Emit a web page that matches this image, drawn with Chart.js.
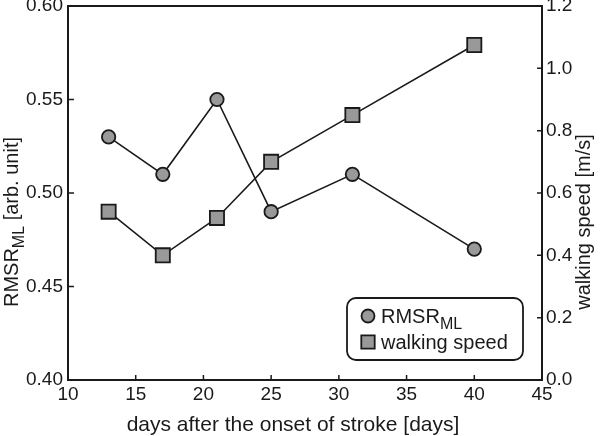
<!DOCTYPE html>
<html><head><meta charset="utf-8">
<script src="https://cdn.jsdelivr.net/npm/chart.js@4"></script>
<style>html,body{margin:0;padding:0;background:#fff}</style>
</head><body><canvas id="c" width="600" height="436"></canvas>
<script>
const days = [13, 17, 21, 25, 31, 40];
const rmsrML = [0.53, 0.51, 0.55, 0.49, 0.51, 0.47];
const walkingSpeed = [0.54, 0.40, 0.52, 0.70, 0.85, 1.075];
const xTicks = [10, 15, 20, 25, 30, 35, 40, 45];
const yLeftTicks = [0.40, 0.45, 0.50, 0.55, 0.60];
const yRightTicks = [0.0, 0.2, 0.4, 0.6, 0.8, 1.0, 1.2];
const seriesLabels = ['RMSR_ML', 'walking speed'];
const xTitle = 'days after the onset of stroke [days]';
const yLeftTitle = 'RMSR_ML [arb. unit]';
const yRightTitle = 'walking speed [m/s]';

const FONT = '"Liberation Sans", Arial, sans-serif';
const INK = '#1a1a1a';

function drawSubText(ctx, text, x, y, size) {
  const m = text.match(/^([^_]*)_(\S+)(.*)$/);
  ctx.textBaseline = 'alphabetic';
  ctx.textAlign = 'left';
  ctx.font = size + 'px ' + FONT;
  if (!m) { ctx.fillText(text, x, y); return ctx.measureText(text).width; }
  ctx.fillText(m[1], x, y);
  let w = ctx.measureText(m[1]).width;
  const ss = Math.round(size * 0.8);
  ctx.font = ss + 'px ' + FONT;
  ctx.fillText(m[2], x + w, y + size * 0.28);
  w += ctx.measureText(m[2]).width;
  ctx.font = size + 'px ' + FONT;
  ctx.fillText(m[3], x + w, y);
  w += ctx.measureText(m[3]).width;
  return w;
}
function measureSubText(ctx, text, size) {
  const m = text.match(/^([^_]*)_(\S+)(.*)$/);
  ctx.font = size + 'px ' + FONT;
  if (!m) return ctx.measureText(text).width;
  let w = ctx.measureText(m[1]).width + ctx.measureText(m[3]).width;
  ctx.font = Math.round(size * 0.8) + 'px ' + FONT;
  return w + ctx.measureText(m[2]).width;
}

const decor = {
  id: 'decor',
  afterDraw(chart) {
    const ctx = chart.ctx;
    const a = chart.chartArea;
    const sx = chart.scales.x, sy = chart.scales.y, sy1 = chart.scales.y1;
    ctx.save();
    ctx.strokeStyle = INK; ctx.lineWidth = 2;
    ctx.strokeRect(a.left, a.top, a.right - a.left, a.bottom - a.top);
    ctx.lineWidth = 1.5;
    ctx.beginPath();
    sx.ticks.forEach(t => { const p = sx.getPixelForValue(t.value); ctx.moveTo(p, a.bottom); ctx.lineTo(p, a.bottom - 5); });
    sy.ticks.forEach(t => { const p = sy.getPixelForValue(t.value); ctx.moveTo(a.left, p); ctx.lineTo(a.left + 6, p); });
    sy1.ticks.forEach(t => { const p = sy1.getPixelForValue(t.value); ctx.moveTo(a.right, p); ctx.lineTo(a.right - 5, p); });
    ctx.stroke();
    ctx.fillStyle = INK;
    ctx.font = '21px ' + FONT;
    ctx.textAlign = 'center'; ctx.textBaseline = 'alphabetic';
    ctx.fillText(xTitle, 293, 431);
    ctx.save();
    ctx.translate(18, 222);
    ctx.rotate(-Math.PI / 2);
    const wl = measureSubText(ctx, yLeftTitle, 20);
    drawSubText(ctx, yLeftTitle, -wl / 2, 0, 20);
    ctx.restore();
    ctx.save();
    ctx.translate(590, 222);
    ctx.rotate(-Math.PI / 2);
    ctx.font = '20px ' + FONT; ctx.textAlign = 'center';
    ctx.fillText(yRightTitle, 0, 0);
    ctx.restore();
    const lx = 347, ly = 298, lw = 176, lh = 62;
    ctx.fillStyle = '#fff';
    ctx.strokeStyle = INK; ctx.lineWidth = 1.8;
    ctx.beginPath();
    ctx.roundRect(lx, ly, lw, lh, 9);
    ctx.fill(); ctx.stroke();
    chart.data.datasets.forEach((ds, i) => {
      const cy = 316 + i * 26;
      ctx.fillStyle = ds.pointBackgroundColor; ctx.strokeStyle = ds.pointBorderColor; ctx.lineWidth = 1.8;
      ctx.beginPath();
      if (ds.pointStyle === 'rect') ctx.rect(368 - 6.7, cy - 6.7, 13.4, 13.4);
      else ctx.arc(368, cy, 6.5, 0, Math.PI * 2);
      ctx.fill(); ctx.stroke();
      ctx.fillStyle = INK;
      drawSubText(ctx, ds.label, 381, cy + 7, 20);
    });
    ctx.restore();
  }
};

const ds = (label, vals, style, axis) => ({
  label, yAxisID: axis,
  data: days.map((d, i) => ({ x: d, y: vals[i] })),
  borderColor: INK, borderWidth: 1.6,
  pointStyle: style, pointRadius: style === 'rect' ? 10 : 6.7,
  pointBackgroundColor: '#999999', pointBorderColor: INK, pointBorderWidth: 1.8,
  tension: 0, fill: false
});

const noPad = s => { s.paddingTop = 0; s.paddingBottom = 0; };
const tickFontY = { family: FONT, size: 19, lineHeight: 0.5 };

new Chart(document.getElementById('c'), {
  type: 'line',
  data: { datasets: [ds(seriesLabels[0], rmsrML, 'circle', 'y'), ds(seriesLabels[1], walkingSpeed, 'rect', 'y1')] },
  options: {
    responsive: false, animation: false, devicePixelRatio: 1,
    layout: { autoPadding: false, padding: { top: 6, left: 0, right: 0, bottom: 0 } },
    plugins: { legend: { display: false }, tooltip: { enabled: false } },
    scales: {
      x: {
        type: 'linear', min: 10, max: 45,
        afterBuildTicks: s => { s.ticks = xTicks.map(v => ({ value: v })); },
        afterFit: s => { s.height = 56; s.paddingLeft = 0; s.paddingRight = 0; },
        grid: { display: false, drawTicks: false }, border: { display: false },
        ticks: { color: INK, font: { family: FONT, size: 19 }, padding: 3, maxRotation: 0, callback: v => String(v) }
      },
      y: {
        position: 'left', min: 0.40, max: 0.60,
        afterBuildTicks: s => { s.ticks = yLeftTicks.map(v => ({ value: v })); },
        afterFit: s => { s.width = 68; noPad(s); },
        grid: { display: false, drawTicks: false }, border: { display: false },
        ticks: { color: INK, font: tickFontY, padding: 5, callback: v => Number(v).toFixed(2) }
      },
      y1: {
        position: 'right', min: 0, max: 1.2,
        afterBuildTicks: s => { s.ticks = yRightTicks.map(v => ({ value: v })); },
        afterFit: s => { s.width = 58; noPad(s); },
        grid: { display: false, drawTicks: false }, border: { display: false },
        ticks: { color: INK, font: tickFontY, padding: 4, callback: v => Number(v).toFixed(1) }
      }
    }
  },
  plugins: [decor]
});
</script></body></html>
